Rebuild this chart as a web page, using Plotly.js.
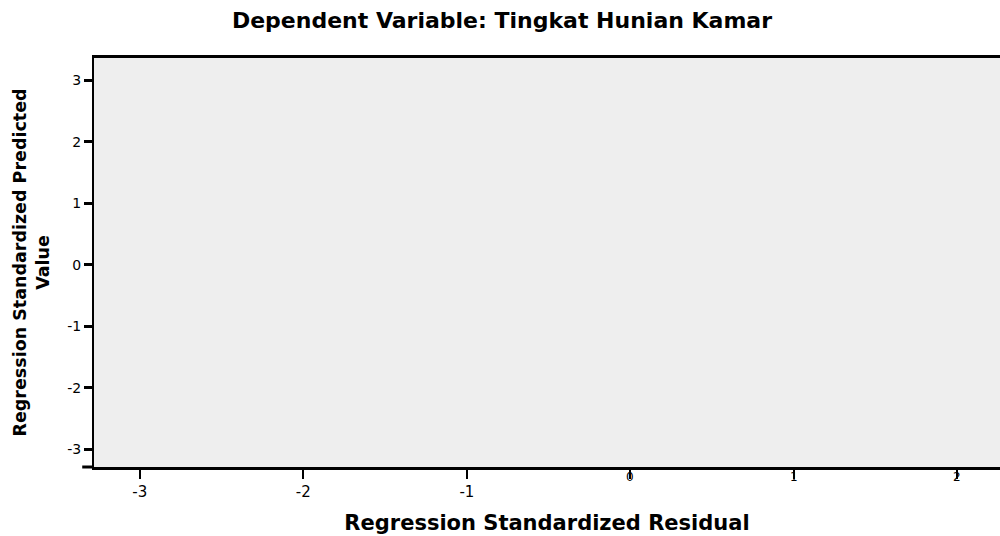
<!DOCTYPE html>
<html>
<head>
<meta charset="utf-8">
<script src="https://cdn.plot.ly/plotly-3.0.1.min.js"></script>
<style>html,body{margin:0;padding:0;background:#fff;}#chart{width:1000px;height:536px;}</style>
</head>
<body>
<div id="chart"></div>
<script>
// Data (no points are visible in the reference plot)
const standardizedResidual = [];
const standardizedPredicted = [];

// Tick values and labels
const xTickVals = [-3, -2, -1, 0, 1, 2];
const xTickText = ['-3', '-2', '-1', '', '', ''];
const xSquashedVals = [0, 1, 2];
const xSquashedText = ['0', '1', '2'];
const yTickVals = [-3, -2, -1, 0, 1, 2, 3];
const yTickText = ['-3', '-2', '-1', '0', '1', '2', '3'];

const titleText = 'Dependent Variable: Tingkat Hunian Kamar';
const xTitleText = 'Regression Standardized Residual';
const yTitleText = 'Regression Standardized Predicted<br>Value';

const FONT = 'DejaVu Sans, Arial, sans-serif';

const traces = [{
  type: 'scatter',
  mode: 'markers',
  x: standardizedResidual,
  y: standardizedPredicted,
  marker: {color: '#000', size: 6},
  hoverinfo: 'skip',
  showlegend: false
}];

const annotations = xSquashedVals.map((v, i) => ({
  x: v, xref: 'x', y: 0, yref: 'paper',
  yanchor: 'top', yshift: -1,
  text: xSquashedText[i], showarrow: false,
  font: {family: FONT, size: 12, color: '#000'}
}));

const layout = {
  width: 1000, height: 536,
  margin: {l: 94, r: 0, t: 58, b: 69},
  paper_bgcolor: '#ffffff',
  plot_bgcolor: '#eeeeee',
  showlegend: false,
  title: {
    text: '<b>' + titleText + '</b>',
    x: 0.502, xanchor: 'center', xref: 'container',
    y: 0.962, yanchor: 'middle', yref: 'container',
    font: {family: FONT, size: 22, color: '#000'}
  },
  xaxis: {
    range: [-3.28, 2.26],
    tickvals: xTickVals, ticktext: xTickText,
    ticks: 'outside', ticklen: 9, tickwidth: 2, tickcolor: '#000',
    showline: true, linecolor: '#000', linewidth: 3, mirror: true,
    showgrid: false, zeroline: false,
    tickfont: {family: FONT, size: 15, color: '#000'},
    title: {text: '<b>' + xTitleText + '</b>', standoff: 16,
            font: {family: FONT, size: 21, color: '#000'}},
    fixedrange: true
  },
  yaxis: {
    range: [-3.29, 3.36],
    tickvals: yTickVals, ticktext: yTickText,
    ticks: 'outside', ticklen: 8, tickwidth: 3, tickcolor: '#000',
    showline: true, linecolor: '#000', linewidth: 2, mirror: false,
    showgrid: false, zeroline: false,
    tickfont: {family: FONT, size: 14, color: '#000'},
    title: {text: '<b>' + yTitleText + '</b>', standoff: 13,
            font: {family: FONT, size: 17.5, color: '#000'}},
    fixedrange: true
  },
  annotations: annotations,
  shapes: [{
    type: 'line', xref: 'paper', yref: 'paper',
    x0: -0.013, x1: 0, y0: 0, y1: 0,
    line: {color: '#000', width: 3}
  }]
};

Plotly.newPlot('chart', traces, layout, {displayModeBar: false, staticPlot: true});
</script>
</body>
</html>
